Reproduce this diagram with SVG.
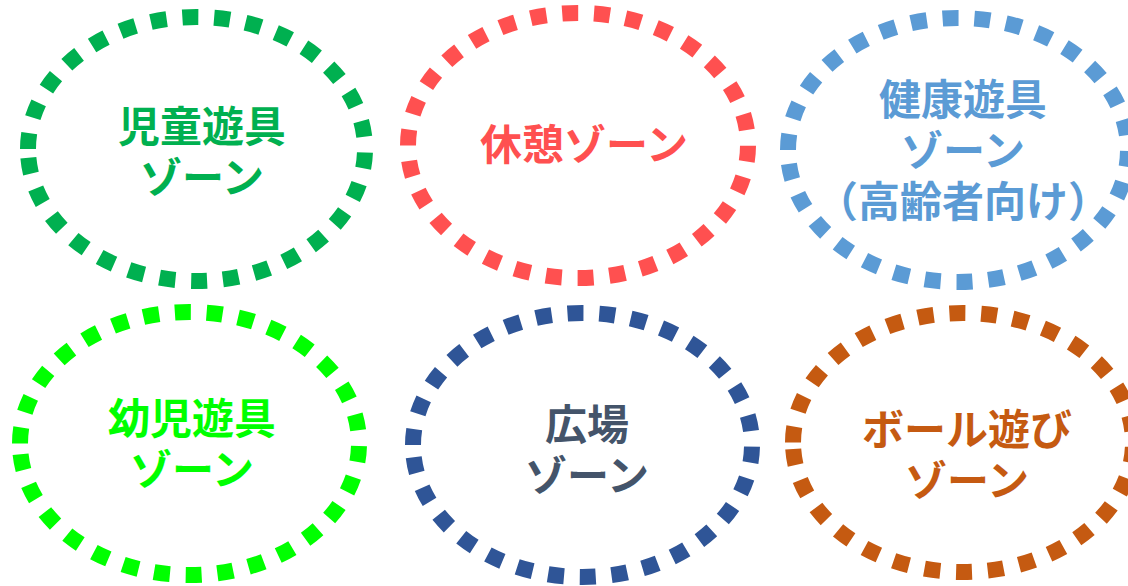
<svg xmlns="http://www.w3.org/2000/svg" width="1128" height="586" viewBox="0 0 1128 586">
<style>
.zone{fill:none;stroke-width:16;stroke-dasharray:16 15.8}
.lbl{font-family:"Noto Sans CJK JP","Noto Sans CJK SC",sans-serif;font-weight:700;font-size:42px;text-anchor:middle}
</style>
<rect width="1128" height="586" fill="#ffffff"/>
<g id="zone-children">
<path class="zone" stroke="#00B050" d="M28,149 A168.5,132 0 0 1 365,149 A168.5,132 0 0 1 28,149 Z"/>
<text class="lbl" fill="#00B050"><tspan x="202" y="142">児童遊具</tspan><tspan x="202" y="193">ゾーン</tspan></text>
</g>
<g id="zone-rest">
<path class="zone" stroke="#FF5050" d="M408,145.5 A170,132.5 0 0 1 748,145.5 A170,132.5 0 0 1 408,145.5 Z"/>
<text class="lbl" fill="#FF5050" x="584" y="160">休憩ゾーン</text>
</g>
<g id="zone-health">
<path class="zone" stroke="#5B9BD5" d="M788,150 A170,132 0 0 1 1128,150 A170,132 0 0 1 788,150 Z"/>
<text class="lbl" fill="#5B9BD5"><tspan x="963" y="115">健康遊具</tspan><tspan x="963" y="166">ゾーン</tspan><tspan x="963" y="217">（高齢者向け）</tspan></text>
</g>
<g id="zone-infant">
<path class="zone" stroke="#00FF00" d="M20,443.5 A169.5,131.5 0 0 1 359,443.5 A169.5,131.5 0 0 1 20,443.5 Z"/>
<text class="lbl" fill="#00FF00"><tspan x="192" y="434">幼児遊具</tspan><tspan x="192" y="485">ゾーン</tspan></text>
</g>
<g id="zone-plaza">
<path class="zone" stroke="#2F5597" d="M413,445 A169.5,132 0 0 1 752,445 A169.5,132 0 0 1 413,445 Z"/>
<text class="lbl" fill="#44546A"><tspan x="587" y="440">広場</tspan><tspan x="587" y="491">ゾーン</tspan></text>
</g>
<g id="zone-ball">
<path class="zone" stroke="#C55A11" d="M793,442.5 A170,129.5 0 0 1 1133,442.5 A170,129.5 0 0 1 793,442.5 Z"/>
<text class="lbl" fill="#C55A11"><tspan x="967" y="445">ボール遊び</tspan><tspan x="967" y="496">ゾーン</tspan></text>
</g>
<g id="connectors"></g>
</svg>
